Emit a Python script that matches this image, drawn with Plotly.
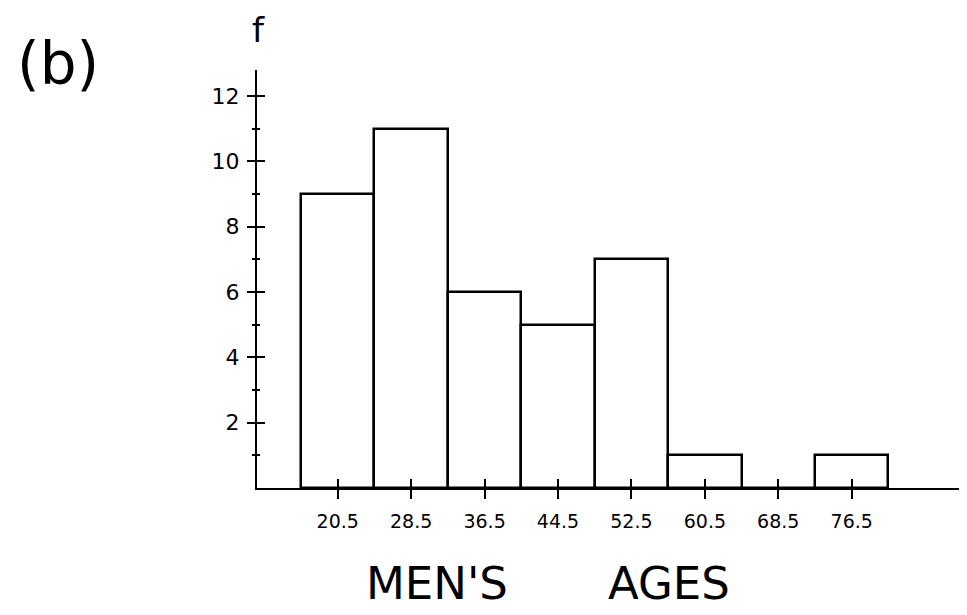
import plotly.graph_objects as go

# Data
midpoints = [20.5, 28.5, 36.5, 44.5, 52.5, 60.5, 68.5, 76.5]
frequencies = [9, 11, 6, 5, 7, 1, 0, 1]
x_tick_labels = ["20.5", "28.5", "36.5", "44.5", "52.5", "60.5", "68.5", "76.5"]
y_major = [2, 4, 6, 8, 10, 12]
y_minor = [1, 3, 5, 7, 9, 11]
class_width = 8
x_title = "MEN'S" + "\u00a0" * 7 + "AGES"
y_title = "f"
panel_label = "(b)"

XR = [11.7, 88.3]
YR = [0, 12.8]
FONT = "DejaVu Sans"

# page body has an 8px margin; lay out in screen pixels
OFF = 8
W, H = 959, 607
L, R, T, B = 249, 7, 62, 127
pw, ph = W - L - R, H - T - B


def paper(px, py):
    return (px - OFF - L) / pw, (H - B - (py - OFF)) / ph


fig = go.Figure()
fig.add_trace(go.Bar(
    x=midpoints, y=frequencies, width=class_width,
    marker=dict(color="white", line=dict(color="black", width=2.5)),
    showlegend=False, hoverinfo="skip",
))
# invisible trace hosting the overlay axes (ticks crossing the axis lines)
fig.add_trace(go.Scatter(x=[None], y=[None], xaxis="x2", yaxis="y2",
                         showlegend=False, hoverinfo="skip"))

common_x = dict(range=XR, tickvals=midpoints, showgrid=False, zeroline=False,
                ticklen=9, tickwidth=1.5, tickcolor="black", fixedrange=True,
                automargin=False)
common_y = dict(range=YR, tickvals=y_major, showgrid=False, zeroline=False,
                ticklen=8, tickwidth=1.5, tickcolor="black", fixedrange=True,
                automargin=False)

anns = []
for text, (px, py), size in [(y_title, (258, 30), 34),
                             (panel_label, (58, 64), 58),
                             (x_title, (548, 583), 45)]:
    x, y = paper(px, py)
    anns.append(dict(text=text, x=x, y=y, xref="paper", yref="paper",
                     xanchor="center", yanchor="middle", showarrow=False,
                     font=dict(family=FONT, size=size, color="black")))

fig.update_layout(
    width=W, height=H,
    margin=dict(l=L, r=R, t=T, b=B),
    paper_bgcolor="white", plot_bgcolor="white",
    bargap=0,
    xaxis=dict(**common_x, ticks="outside", ticktext=x_tick_labels,
               showline=True, linecolor="black", linewidth=2,
               ticklabelstandoff=6,
               tickfont=dict(family=FONT, size=19, color="black")),
    yaxis=dict(**common_y, ticks="outside", showline=True, linecolor="black",
               linewidth=2, ticklabelstandoff=3,
               tickfont=dict(family=FONT, size=22, color="black"),
               minor=dict(tickvals=y_minor, ticks="outside", ticklen=3,
                          tickwidth=2, tickcolor="black")),
    xaxis2=dict(**common_x, overlaying="x", anchor="y", side="bottom",
                ticks="inside", showticklabels=False, showline=False),
    yaxis2=dict(**common_y, overlaying="y", anchor="x", side="left",
                ticks="inside", showticklabels=False, showline=False,
                minor=dict(tickvals=y_minor, ticks="inside", ticklen=3,
                           tickwidth=2, tickcolor="black")),
    annotations=anns,
)

fig.write_html("out.html")
